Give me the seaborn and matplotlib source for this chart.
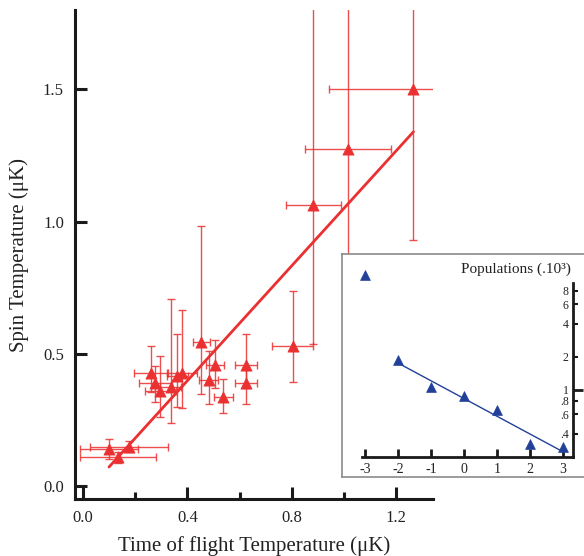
import numpy as np
import pandas as pd
import matplotlib
matplotlib.use("Agg")
import matplotlib.pyplot as plt
import seaborn as sns
from matplotlib.ticker import FixedLocator, FixedFormatter

# Main panel: spin temperature vs time-of-flight temperature (uK)
tof_temp = [0.100, 0.135, 0.177, 0.259, 0.278, 0.297, 0.337, 0.361, 0.381, 0.454,
            0.481, 0.506, 0.537, 0.624, 0.624, 0.803, 0.882, 1.016, 1.265]
spin_temp = [0.139, 0.109, 0.149, 0.427, 0.389, 0.361, 0.376, 0.417, 0.427, 0.543,
             0.400, 0.457, 0.336, 0.457, 0.389, 0.531, 1.062, 1.273, 1.503]
tof_err = [0.110, 0.146, 0.148, 0.063, 0.062, 0.059, 0.040, 0.040, 0.055, 0.033,
           0.035, 0.035, 0.036, 0.042, 0.042, 0.078, 0.106, 0.164, 0.323]
spin_err_lo = [0.038, 0.020, 0.020, 0.070, 0.070, 0.099, 0.139, 0.117, 0.133, 0.195,
               0.090, 0.087, 0.060, 0.086, 0.079, 0.136, 0.524, 0.600, 0.571]
spin_err_hi = [0.039, 0.020, 0.020, 0.104, 0.066, 0.131, 0.331, 0.159, 0.240, 0.442,
               0.109, 0.096, 0.069, 0.119, 0.050, 0.205, 1.000, 1.000, 1.000]
fit_slope = 1.088
fit_intercept = -0.037

# Inset: populations per Zeeman state (x10^3)
m_state = [-3, -2, -1, 0, 1, 2, 3]
populations = [11.1, 1.87, 1.06, 0.88, 0.66, 0.32, 0.30]

RED = "#ea3030"
BLUE = "#22409a"
INK = "#1a1a1a"
TXT = "#222222"

sns.set_style("ticks")
plt.rcParams["font.family"] = ["Liberation Serif", "DejaVu Serif"]
plt.rcParams["axes.unicode_minus"] = False

df = pd.DataFrame({"tof": tof_temp, "spin": spin_temp})

fig = plt.figure(figsize=(5.84, 5.56), dpi=100)
ax = fig.add_axes([75 / 584, 1 - 499 / 556, (433 - 75) / 584, (499 - 10) / 556])

ax.errorbar(tof_temp, spin_temp, xerr=tof_err, yerr=[spin_err_lo, spin_err_hi],
            fmt="none", ecolor=RED, elinewidth=1.0, capsize=3, capthick=1.0, alpha=0.85)
sns.scatterplot(data=df, x="tof", y="spin", marker="^", s=65, color=RED,
                edgecolor=RED, linewidth=0.5, ax=ax, zorder=3)
fit_x = np.array([min(tof_temp), max(tof_temp)])
sns.lineplot(x=fit_x, y=fit_slope * fit_x + fit_intercept, color=RED, lw=2.0, ax=ax, zorder=4)

ax.set_xlim(-0.03, 1.34)
ax.set_ylim(-0.049, 1.80)
ax.set_xticks([0.0, 0.4, 0.8, 1.2])
ax.set_xticks([0.2, 0.6, 1.0], minor=True)
ax.set_yticks([0.0, 0.5, 1.0, 1.5])
ax.xaxis.set_major_formatter(FixedFormatter(["0.0", "0.4", "0.8", "1.2"]))
ax.yaxis.set_major_formatter(FixedFormatter(["0.0", "0.5", "1.0", "1.5"]))
for s in ["top", "right"]:
    ax.spines[s].set_visible(False)
for s in ["left", "bottom"]:
    ax.spines[s].set_linewidth(2.2)
    ax.spines[s].set_color(INK)
ax.tick_params(which="major", direction="in", length=8.5, width=2.2, color=INK,
               labelsize=12, pad=8, labelcolor=TXT)
ax.tick_params(which="minor", direction="in", length=5, width=2.2, color=INK)
ax.set_xlabel("Time of flight Temperature (\u03bcK)", fontsize=15, labelpad=7, color=TXT)
ax.set_ylabel("Spin Temperature (\u03bcK)", fontsize=15, labelpad=10, color=TXT)

# Inset frame
panel = fig.add_axes([342 / 584, 1 - 477 / 556, (584 - 342) / 584 + 0.01, (477 - 254) / 556])
panel.set_xticks([])
panel.set_yticks([])
panel.set_facecolor("white")
for s in panel.spines.values():
    s.set_color("#8a8a8a")
    s.set_linewidth(1.2)

# Inset data axes
ins = fig.add_axes([362 / 584, 1 - 457 / 556, (573 - 362) / 584, (457 - 262) / 556])
ins.patch.set_alpha(0)
ins.set_yscale("log")
ins.set_xlim(-3.09, 3.3)
ins.set_ylim(0.245, 14.6)

sns.scatterplot(x=m_state, y=populations, marker="^", s=50, color=BLUE,
                edgecolor=BLUE, linewidth=0.5, ax=ins, zorder=3, clip_on=False)
fit_m = np.array(m_state[1:])
coef = np.polyfit(fit_m, np.log10(populations[1:]), 1)
sns.lineplot(x=fit_m, y=10 ** np.polyval(coef, fit_m), color=BLUE, lw=1.0, ax=ins, zorder=2)

ins.spines["top"].set_visible(False)
ins.spines["right"].set_visible(False)
ins.spines["left"].set_position(("axes", 1.0))
ins.spines["left"].set_bounds(0.245, 9.4)
for s in ["left", "bottom"]:
    ins.spines[s].set_linewidth(2.0)
    ins.spines[s].set_color(INK)
ins.set_xticks(m_state)
ins.xaxis.set_major_formatter(FixedFormatter([str(m) for m in m_state]))
ins.yaxis.set_major_locator(FixedLocator([1]))
ins.yaxis.set_major_formatter(FixedFormatter(["1"]))
ins.yaxis.set_minor_locator(FixedLocator([0.4, 0.6, 0.8, 2, 4, 6, 8]))
ins.yaxis.set_minor_formatter(FixedFormatter([".4", ".6", ".8", "2", "4", "6", "8"]))
ins.tick_params(axis="x", direction="in", length=6, width=2.0, color=INK,
                labelsize=10, pad=4, labelcolor=TXT)
ins.tick_params(axis="y", which="major", direction="in", length=7, width=2.0,
                color=INK, labelsize=8.5, pad=3, labelcolor=TXT)
ins.tick_params(axis="y", which="minor", direction="in", length=3.5, width=1.5,
                color=INK, labelsize=8.5, pad=3, labelcolor=TXT)
ins.set_xlabel("")
ins.set_ylabel("")
ins.text(0.99, 0.965, "Populations (.10\u00b3)", transform=ins.transAxes, ha="right",
         va="center", fontsize=11, color=TXT)

fig.savefig("out.png", dpi=100)
